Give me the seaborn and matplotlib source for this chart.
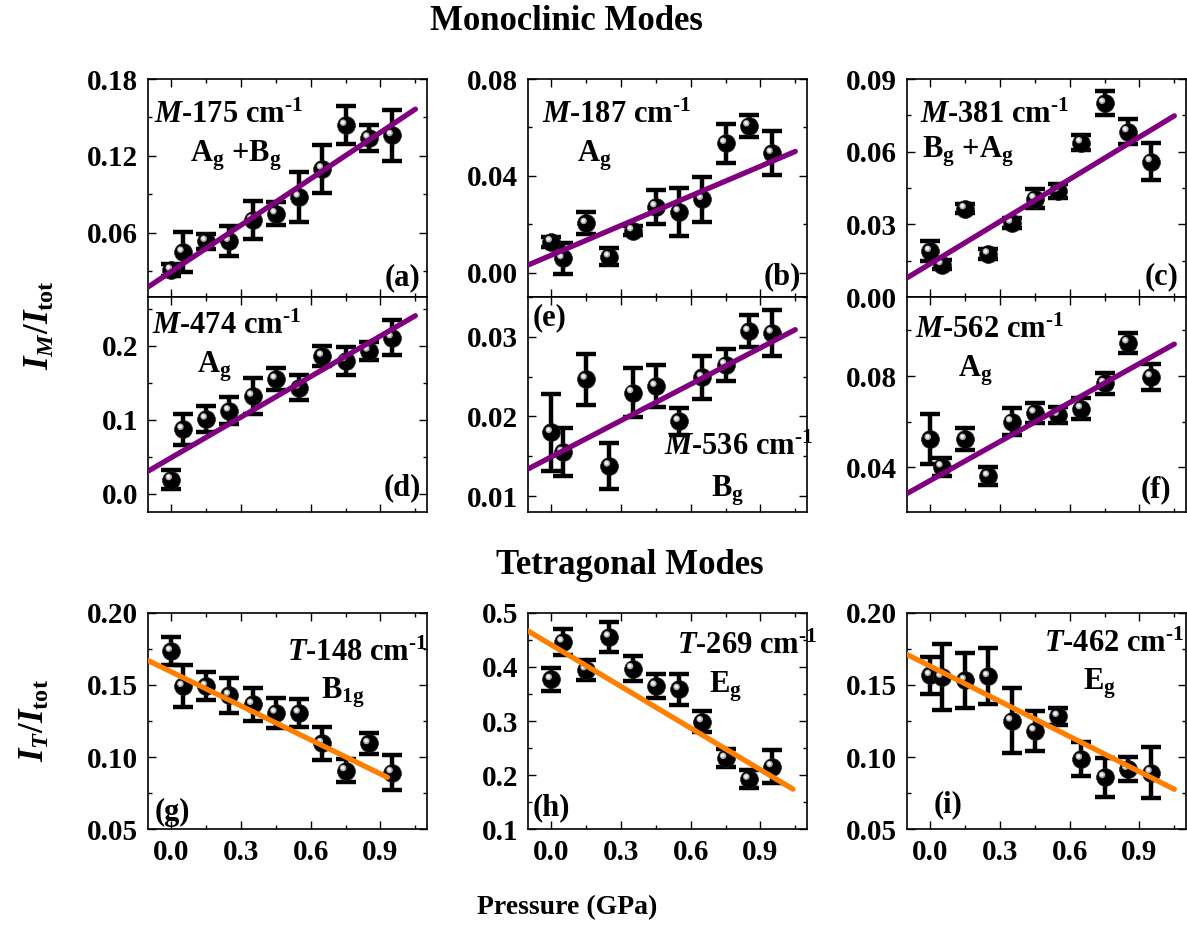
import numpy as np
import matplotlib
matplotlib.use('Agg')
import matplotlib.pyplot as plt
import seaborn as sns
from matplotlib.ticker import MultipleLocator, FormatStrFormatter
from matplotlib.transforms import offset_copy

"""#Data (read off the reference)"""

pressure = [0.0, 0.05, 0.15, 0.25, 0.35, 0.45, 0.55, 0.65, 0.75, 0.85, 0.95]

a_y = [0.031, 0.045, 0.0535, 0.0535, 0.070, 0.075, 0.088, 0.110, 0.144, 0.134, 0.136]
a_err = [0.005, 0.0157, 0.006, 0.0115, 0.015, 0.009, 0.0196, 0.0185, 0.015, 0.010, 0.020]
b_y = [0.0128, 0.0059, 0.0204, 0.0066, 0.0174, 0.0273, 0.0252, 0.0303, 0.0535, 0.0607, 0.0494]
b_err = [0.002, 0.0062, 0.0045, 0.0035, 0.002, 0.007, 0.010, 0.0093, 0.008, 0.0046, 0.009]
c_y = [0.0189, 0.0134, 0.0365, 0.0178, 0.0306, 0.0406, 0.0438, 0.0637, 0.080, 0.0683, 0.0559]
c_err = [0.0041, 0.002, 0.002, 0.002, 0.002, 0.004, 0.003, 0.003, 0.005, 0.005, 0.0076]
d_y = [0.019, 0.087, 0.101, 0.112, 0.132, 0.155, 0.143, 0.186, 0.180, 0.193, 0.211]
d_err = [0.013, 0.021, 0.0176, 0.018, 0.024, 0.015, 0.017, 0.014, 0.019, 0.012, 0.024]
e_y = [0.0180, 0.0155, 0.0247, 0.0138, 0.0230, 0.0238, 0.0194, 0.0249, 0.0265, 0.0307, 0.0305]
e_err = [0.0048, 0.003, 0.0032, 0.0029, 0.0031, 0.0026, 0.0017, 0.0027, 0.002, 0.002, 0.0029]
f_y = [0.0523, 0.0403, 0.0523, 0.0362, 0.0600, 0.0639, 0.0629, 0.0658, 0.0768, 0.0946, 0.0797]
f_err = [0.011, 0.004, 0.0048, 0.0038, 0.006, 0.0044, 0.0035, 0.0044, 0.0047, 0.0043, 0.0058]
g_y = [0.1735, 0.1491, 0.1491, 0.1429, 0.1366, 0.1306, 0.1306, 0.1094, 0.0906, 0.1094, 0.0892]
g_err = [0.0098, 0.0146, 0.0097, 0.012, 0.0115, 0.0104, 0.0097, 0.0115, 0.0078, 0.0073, 0.0123]
h_y = [0.377, 0.4465, 0.395, 0.4557, 0.397, 0.3646, 0.3585, 0.2988, 0.231, 0.1923, 0.2157]
h_err = [0.0206, 0.0237, 0.0185, 0.0277, 0.0225, 0.0215, 0.028, 0.020, 0.017, 0.017, 0.031]
i_y = [0.1567, 0.1555, 0.1532, 0.156, 0.1251, 0.1182, 0.1283, 0.0986, 0.0859, 0.0915, 0.0892]
i_err = [0.013, 0.023, 0.019, 0.0195, 0.0225, 0.014, 0.006, 0.0117, 0.0136, 0.0085, 0.0176]

# linear fits, end points as drawn
fit_x = [-0.1, 1.05]
a_fit = [0.0178, 0.1565]
b_fit = [0.0032, 0.0501]
c_fit = [0.0079, 0.0748]
d_fit = [0.0303, 0.2407]
e_fit = [0.0134, 0.0309]
f_fit = [0.0286, 0.094]
g_fit_x = [-0.1, 0.93]
g_fit = [0.167, 0.0859]
h_fit_x = [-0.1, 1.04]
h_fit = [0.4668, 0.1738]
i_fit = [0.1712, 0.0776]

mode_labels = [r'$M$-175 cm$^{\text{-1}}$', r'$M$-187 cm$^{\text{-1}}$', r'$M$-381 cm$^{\text{-1}}$',
               r'$M$-474 cm$^{\text{-1}}$', r'$M$-536 cm$^{\text{-1}}$', r'$M$-562 cm$^{\text{-1}}$',
               r'$T$-148 cm$^{\text{-1}}$', r'$T$-269 cm$^{\text{-1}}$', r'$T$-462 cm$^{\text{-1}}$']
sym_labels = [r'A$_{\mathrm{g}}$ +B$_{\mathrm{g}}$', r'A$_{\mathrm{g}}$', r'B$_{\mathrm{g}}$ +A$_{\mathrm{g}}$',
              r'A$_{\mathrm{g}}$', r'B$_{\mathrm{g}}$', r'A$_{\mathrm{g}}$',
              r'B$_{\mathrm{1g}}$', r'E$_{\mathrm{g}}$', r'E$_{\mathrm{g}}$']
panel_labels = ['(a)', '(b)', '(c)', '(d)', '(e)', '(f)', '(g)', '(h)', '(i)']

"""#Style"""

sns.set_style('ticks')
plt.rcParams['font.family'] = ['Liberation Serif', 'DejaVu Serif']
plt.rcParams['font.weight'] = 'bold'
plt.rcParams['mathtext.fontset'] = 'custom'
plt.rcParams['mathtext.rm'] = 'Liberation Serif:bold'
plt.rcParams['mathtext.it'] = 'Liberation Serif:italic:bold'
plt.rcParams['mathtext.bf'] = 'Liberation Serif:bold'
for key in ['text.color', 'axes.labelcolor', 'xtick.color', 'ytick.color', 'axes.edgecolor']:
    plt.rcParams[key] = 'black'

purple = '#800080'
orange = '#FF7F00'

fig = plt.figure(figsize=(11.87, 9.34), dpi=100)

lefts = [0.1247, 0.4448, 0.7641]
w = 0.235
rows = [(0.6820, 0.2334), (0.4518, 0.2302), (0.1124, 0.2313)]

panels = [
    (a_y, a_err, fit_x, a_fit, purple, (0.01, 0.18), 0.06, '%.2f'),
    (b_y, b_err, fit_x, b_fit, purple, (-0.01, 0.08), 0.04, '%.2f'),
    (c_y, c_err, fit_x, c_fit, purple, (0.0, 0.09), 0.03, '%.2f'),
    (d_y, d_err, fit_x, d_fit, purple, (-0.025, 0.266), 0.1, '%.1f'),
    (e_y, e_err, fit_x, e_fit, purple, (0.008, 0.035), 0.01, '%.2f'),
    (f_y, f_err, fit_x, f_fit, purple, (0.0205, 0.1146), 0.04, '%.2f'),
    (g_y, g_err, g_fit_x, g_fit, orange, (0.05, 0.20), 0.05, '%.2f'),
    (h_y, h_err, h_fit_x, h_fit, orange, (0.1, 0.5), 0.1, '%.1f'),
    (i_y, i_err, fit_x, i_fit, orange, (0.05, 0.20), 0.05, '%.2f'),
]

# text placement (axes fraction): mode label, symmetry label, panel label
mode_pos = [(0.02, 0.80), (0.05, 0.80), (0.047, 0.80), (0.014, 0.83), (0.486, 0.265),
            (0.029, 0.81), (0.50, 0.78), (0.535, 0.81), (0.49, 0.82)]
sym_pos = [(0.15, 0.62), (0.175, 0.62), (0.054, 0.64), (0.176, 0.65), (0.655, 0.07),
           (0.184, 0.63), (0.62, 0.605), (0.65, 0.63), (0.63, 0.645)]
lab_pos = [(0.975, 0.055, 'right'), (0.978, 0.06, 'right'), (0.975, 0.06, 'right'),
           (0.98, 0.08, 'right'), (0.015, 0.87, 'left'), (0.946, 0.07, 'right'),
           (0.025, 0.04, 'left'), (0.015, 0.065, 'left'), (0.094, 0.08, 'left')]

for k, (yv, ye, fx, fy, col, ylim, step, fmt) in enumerate(panels):
    r, c = divmod(k, 3)
    ax = fig.add_axes([lefts[c], rows[r][0], w, rows[r][1]])
    ax.errorbar(pressure, yv, yerr=ye, fmt='none', ecolor='black',
                elinewidth=3.2, capsize=7.5, capthick=3.2, zorder=2)
    sns.scatterplot(x=pressure, y=yv, ax=ax, color='black', s=165,
                    edgecolor='#202020', linewidth=0.5, zorder=3)
    hl = offset_copy(ax.transData, fig=fig, x=-1.8, y=1.8, units='points')
    ax.scatter(pressure, yv, s=22, color='#b0b0b0', edgecolor='none',
               transform=hl, zorder=4)
    hl2 = offset_copy(ax.transData, fig=fig, x=-2.0, y=2.0, units='points')
    ax.scatter(pressure, yv, s=7, color='#f2f2f2', edgecolor='none',
               transform=hl2, zorder=4)
    sns.lineplot(x=fx, y=fy, ax=ax, color=col, linewidth=3.8, zorder=5)

    ax.set_xlim(-0.1, 1.1)
    ax.set_ylim(*ylim)
    ax.xaxis.set_major_locator(MultipleLocator(0.3))
    ax.xaxis.set_minor_locator(MultipleLocator(0.15))
    ax.yaxis.set_major_locator(MultipleLocator(step))
    ax.yaxis.set_minor_locator(MultipleLocator(step / 2))
    ax.yaxis.set_major_formatter(FormatStrFormatter(fmt))
    ax.xaxis.set_major_formatter(FormatStrFormatter('%.1f'))
    ax.tick_params(which='both', direction='in', top=True, right=True,
                   width=1.0, labelsize=21, pad=7)
    ax.tick_params(which='major', length=5.5)
    ax.tick_params(which='minor', length=3)
    if r < 2:
        ax.tick_params(labelbottom=False)
    for sp in ax.spines.values():
        sp.set_linewidth(1.2)
    ax.set_xlabel('')
    ax.set_ylabel('')

    ax.text(mode_pos[k][0], mode_pos[k][1], mode_labels[k], transform=ax.transAxes,
            fontsize=22, fontweight='bold', ha='left', va='baseline', zorder=6)
    ax.text(sym_pos[k][0], sym_pos[k][1], sym_labels[k], transform=ax.transAxes,
            fontsize=22, fontweight='bold', ha='left', va='baseline', zorder=6)
    ax.text(lab_pos[k][0], lab_pos[k][1], panel_labels[k], transform=ax.transAxes,
            fontsize=22, fontweight='bold', ha=lab_pos[k][2], va='baseline', zorder=6)

fig.text(0.477, 0.9775, 'Monoclinic Modes', fontsize=25, fontweight='bold',
         ha='center', va='center')
fig.text(0.531, 0.395, 'Tetragonal Modes', fontsize=25, fontweight='bold',
         ha='center', va='center')
fig.text(0.478, 0.028, 'Pressure (GPa)', fontsize=20, fontweight='bold',
         ha='center', va='center')
fig.text(0.034, 0.652, r'$I_{M}/I_{\mathrm{tot}}$', fontsize=25, rotation=90,
         ha='center', va='center')
fig.text(0.030, 0.229, r'$I_{T}/I_{\mathrm{tot}}$', fontsize=25, rotation=90,
         ha='center', va='center')

plt.savefig('out.png', dpi=100)
